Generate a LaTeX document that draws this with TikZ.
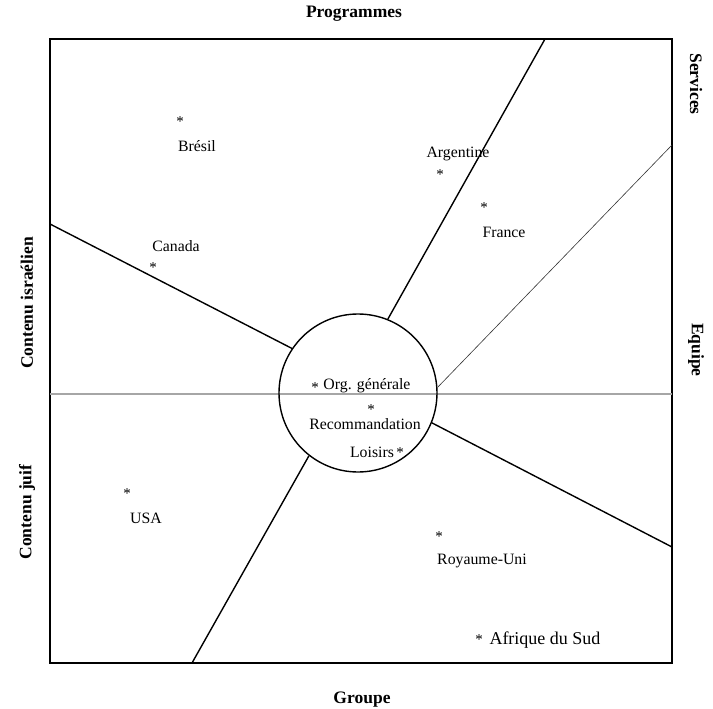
\documentclass[tikz,border=0pt]{standalone}
\usepackage{fontspec}
\setmainfont{Liberation Serif}
\usetikzlibrary{shapes.geometric}
\begin{document}
\begin{tikzpicture}[x=1pt,y=-1pt,
  axislabel/.style={font=\fontsize{17.5}{19}\selectfont\bfseries, inner sep=0pt},
  country/.style={font=\fontsize{15.8}{17}\selectfont, inner sep=0pt},
  starmark/.style={font=\fontsize{15}{16}\selectfont, inner sep=0pt},
  divider/.style={line width=1.4pt, black},
  thindivider/.style={line width=0.6pt, black!80},
  midline/.style={line width=1.6pt, black!35}
]
\useasboundingbox (0,0) rectangle (713,709);
% frame
\coordinate (tl) at (50,39);
\coordinate (br) at (672,663);
\draw[line width=1.8pt] (tl) rectangle (br);
% horizontal axis
\coordinate (hl) at (50,394);
\coordinate (hr) at (672,394);
\draw[midline] (hl) -- (hr);
% central circle
\node[draw, line width=1.4pt, ellipse, minimum width=158pt, minimum height=158pt, inner sep=0pt] (c) at (358,393) {};
% divider end points
\coordinate (e1) at (50,224);
\coordinate (e2) at (545,39);
\coordinate (e3) at (672,145);
\coordinate (e4) at (672,547);
\coordinate (e5) at (192,663);
\draw[divider] (e1) -- (c.146);
\draw[divider] (e2) -- (c.68);
\draw[thindivider] (e3) -- (c.4);
\draw[divider] (e4) -- (c.-22);
\draw[divider] (e5) -- (c.-128);
% axis labels
\node[axislabel] (prog) at (354,14) {Programmes};
\node[axislabel] (grp) at (362,700) {Groupe};
\node[axislabel, rotate=-90] (serv) at (696,84) {Services};
\node[axislabel, rotate=-90] (equ) at (696,350) {Equipe};
\node[axislabel, rotate=90] (cisr) at (27,303) {Contenu israélien};
\node[axislabel, rotate=90] (cjuif) at (27,512) {Contenu juif};
% countries
\node[starmark] (sbre) at (180,122) {*};
\node[country] (bre) at (197,146) {Brésil};
\node[country] (can) at (176,246) {Canada};
\node[starmark] (scan) at (153,268) {*};
\node[country] (arg) at (458,154) {Argentine};
\node[starmark] (sarg) at (440,175) {*};
\node[starmark] (sfra) at (484,208) {*};
\node[country] (fra) at (504,232) {France};
\node[starmark] (sorg) at (315,388) {*};
\node[country] (org) at (367,386) {Org. générale};
\node[starmark] (srec) at (371,410) {*};
\node[country] (rec) at (365,424) {Recommandation};
\node[country] (loi) at (372,452) {Loisirs};
\node[starmark] (sloi) at (400,453) {*};
\node[starmark] (susa) at (127,494) {*};
\node[country] (usa) at (146,518) {USA};
\node[starmark] (sroy) at (439,537) {*};
\node[country] (roy) at (482,561) {Royaume-Uni};
\node[starmark] (safr) at (479,640) {*};
\node[country, font=\fontsize{18}{19}\selectfont] (afr) at (545,640) {Afrique du Sud};
\end{tikzpicture}
\end{document}
